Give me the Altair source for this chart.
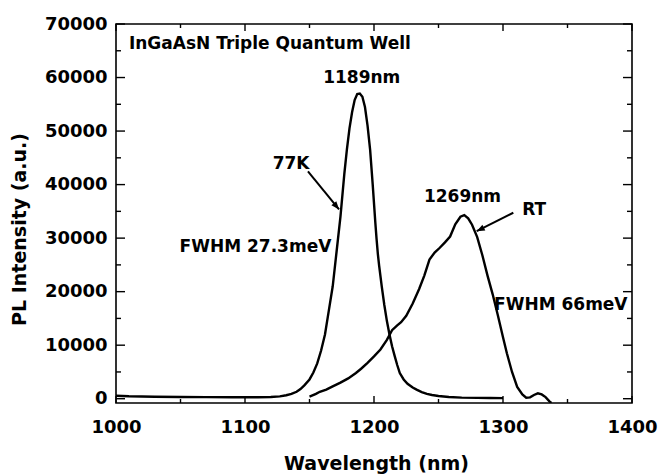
import altair as alt
import pandas as pd

# ---- data ----
wl_77k = [1000, 1010, 1030, 1050, 1070, 1090, 1110, 1120, 1127, 1132, 1136, 1140, 1143, 1146,
          1150, 1153, 1156, 1159, 1162, 1165, 1168, 1171, 1174, 1177, 1179, 1181, 1183, 1185,
          1187, 1189, 1191, 1193, 1195, 1197, 1199, 1201, 1202, 1203, 1204, 1206, 1208, 1210,
          1212, 1214, 1216, 1218, 1220, 1223, 1226, 1230, 1233, 1237, 1241, 1245, 1250, 1258,
          1268, 1280, 1290, 1300]
pl_77k = [550, 450, 380, 330, 300, 280, 280, 320, 430, 650, 900, 1300, 1800, 2500,
          3600, 4900, 6600, 9000, 12000, 16500, 21000, 27500, 34000, 42000, 46600, 50500, 53500, 55800,
          56900, 57000, 56400, 54500, 51000, 46500, 40000, 33000, 29800, 27000, 24800, 21000, 17500, 14500,
          12000, 9800, 8000, 6300, 4800, 3600, 2800, 2100, 1700, 1250, 900, 700, 500, 320,
          200, 150, 130, 120]

wl_rt = [1150, 1155, 1158, 1163, 1168, 1174, 1180, 1186, 1190, 1195, 1200, 1205, 1210, 1214,
         1218, 1221, 1225, 1230, 1235, 1239, 1243, 1247, 1251, 1255, 1259, 1263, 1267, 1270,
         1273, 1276, 1280, 1284, 1288, 1292, 1296, 1300, 1303, 1307, 1311, 1315, 1318, 1321,
         1324, 1327, 1330, 1333, 1336, 1337.5]
pl_rt = [400, 900, 1300, 1700, 2300, 3000, 3800, 4800, 5600, 6700, 7900, 9200, 11000, 12800,
         13700, 14300, 15500, 17800, 20500, 23000, 26000, 27300, 28200, 29200, 30300, 32600, 34000, 34300,
         33700, 32500, 30200, 26800, 23000, 19500, 15600, 11500, 8500, 5000, 2200, 800, 200, 250,
         700, 1000, 800, 300, -500, -800]

x_major = [1000, 1100, 1200, 1300, 1400]
x_minor = [1050, 1150, 1250, 1350]
y_major = [0, 10000, 20000, 30000, 40000, 50000, 60000, 70000]
y_minor = [5000, 15000, 25000, 35000, 45000, 55000, 65000]

title_text = ["InGaAsN Triple Quantum Well"]
title_x = [1010]
title_y = [66230]

ann_text = ["1189nm", "77K", "FWHM 27.3meV", "1269nm", "RT", "FWHM 66meV"]
ann_x = [1190.5, 1135.7, 1108.1, 1268.6, 1324.2, 1344.8]
ann_y = [59830, 43780, 28340, 37700, 35210, 17590]

arrow_x1 = [1148.8, 1308.0]
arrow_y1 = [42470, 34740]
arrow_x2 = [1172.9, 1279.6]
arrow_y2 = [35360, 31300]

# ---- tables ----
lines_df = pd.concat([
    pd.DataFrame({"wl": wl_77k, "pl": pl_77k, "series": "77K"}),
    pd.DataFrame({"wl": wl_rt, "pl": pl_rt, "series": "RT"}),
])
title_df = pd.DataFrame({"wl": title_x, "pl": title_y, "t": title_text})
ann_df = pd.DataFrame({"wl": ann_x, "pl": ann_y, "t": ann_text})
arrow_df = pd.DataFrame({"x1": arrow_x1, "y1": arrow_y1, "x2": arrow_x2, "y2": arrow_y2})

W, H = 516, 379
FONT = "DejaVu Sans"
xs = alt.Scale(domain=[1000, 1400], nice=False, zero=False)
ys = alt.Scale(domain=[-800, 70000], nice=False, zero=False)

x_bottom = alt.Axis(orient="bottom", values=x_major, ticks=False, domain=False, grid=False,
                    format="d", labelPadding=15, labelFlush=False, labelOverlap=False,
                    title="Wavelength (nm)", titleX=260, titleY=60, titleBaseline="middle",
                    titleAlign="center")
y_left = alt.Axis(orient="left", values=y_major, ticks=False, domain=False, grid=False,
                  format="d", labelPadding=9, labelFlush=False, labelOverlap=False,
                  title="PL Intensity (a.u.)", titleX=-97, titleY=205, titleAngle=-90,
                  titleBaseline="middle", titleAlign="center")

lines = alt.Chart(lines_df).mark_line(color="black", strokeWidth=2.4, clip=True).encode(
    x=alt.X("wl:Q", scale=xs, axis=x_bottom),
    y=alt.Y("pl:Q", scale=ys, axis=y_left),
    detail="series:N",
    order="wl:Q",
)


# inward tick marks on all four sides of the frame, placed through the scales
def x_ticks_layer(values, length, top):
    df = pd.DataFrame({"v": values})
    y0 = 0 if top else H
    y1 = length if top else H - length
    return alt.Chart(df).mark_rule(color="black", strokeWidth=1.4).encode(
        x=alt.X("v:Q", scale=xs, axis=None),
        y=alt.value(y0), y2=alt.value(y1),
    )


def y_ticks_layer(values, length, right):
    df = pd.DataFrame({"v": values})
    x0 = W if right else 0
    x1 = W - length if right else length
    return alt.Chart(df).mark_rule(color="black", strokeWidth=1.4).encode(
        y=alt.Y("v:Q", scale=ys, axis=None),
        x=alt.value(x0), x2=alt.value(x1),
    )


tick_layers = [
    x_ticks_layer(x_major, 7, False), x_ticks_layer(x_minor, 4, False),
    x_ticks_layer(x_major, 7, True), x_ticks_layer(x_minor, 4, True),
    y_ticks_layer(y_major, 9, False), y_ticks_layer(y_minor, 5, False),
    y_ticks_layer(y_major, 9, True), y_ticks_layer(y_minor, 5, True),
]

title_layer = alt.Chart(title_df).mark_text(
    font=FONT, fontWeight="bold", fontSize=17, align="left", baseline="middle", color="black"
).encode(
    x=alt.X("wl:Q", scale=xs, axis=None),
    y=alt.Y("pl:Q", scale=ys, axis=None),
    text="t:N",
)

ann_layer = alt.Chart(ann_df).mark_text(
    font=FONT, fontWeight="bold", fontSize=17, align="center", baseline="middle", color="black"
).encode(
    x=alt.X("wl:Q", scale=xs, axis=None),
    y=alt.Y("pl:Q", scale=ys, axis=None),
    text="t:N",
)

arrow_lines = alt.Chart(arrow_df).mark_rule(color="black", strokeWidth=2).encode(
    x=alt.X("x1:Q", scale=xs, axis=None),
    y=alt.Y("y1:Q", scale=ys, axis=None),
    x2="x2:Q",
    y2="y2:Q",
)

head_shape = "M0,0 L-0.4,1 L0.4,1 Z"
head1 = alt.Chart(arrow_df.iloc[[0]]).mark_point(
    shape=head_shape, filled=True, size=260, color="black", opacity=1, angle=140
).encode(
    x=alt.X("x2:Q", scale=xs, axis=None),
    y=alt.Y("y2:Q", scale=ys, axis=None),
)
head2 = alt.Chart(arrow_df.iloc[[1]]).mark_point(
    shape=head_shape, filled=True, size=260, color="black", opacity=1, angle=243
).encode(
    x=alt.X("x2:Q", scale=xs, axis=None),
    y=alt.Y("y2:Q", scale=ys, axis=None),
)

chart = alt.layer(lines, *tick_layers, title_layer, ann_layer, arrow_lines, head1, head2).resolve_axis(
    x="independent", y="independent"
).properties(
    width=W, height=H,
    padding={"left": 116, "top": 24, "right": 26, "bottom": 73},
    autosize=alt.AutoSizeParams(type="none"),
    background="white",
).configure_view(
    stroke="black", strokeWidth=1.6
).configure_axis(
    labelFont=FONT, labelFontWeight="bold", labelFontSize=18, labelColor="black",
    titleFont=FONT, titleFontWeight="bold", titleFontSize=19, titleColor="black",
)

chart.save("out.html", embed_options={"renderer": "svg", "actions": False})
